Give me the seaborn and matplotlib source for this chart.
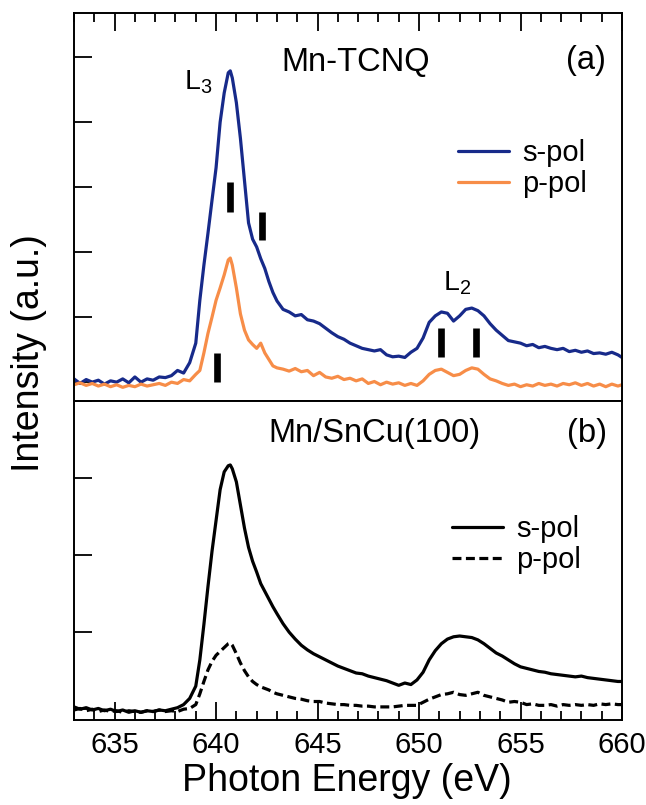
import numpy as np
import pandas as pd
import matplotlib
matplotlib.use("Agg")
import matplotlib.pyplot as plt
from matplotlib.ticker import MultipleLocator, NullFormatter
import seaborn as sns

sns.set_theme(style="white")
plt.rcParams["font.family"] = ["Liberation Sans", "DejaVu Sans"]
plt.rcParams["mathtext.fontset"] = "custom"
plt.rcParams["mathtext.rm"] = "Liberation Sans"
for key in ("text.color", "axes.labelcolor", "xtick.color", "ytick.color"):
    plt.rcParams[key] = "black"

# Photon energy grid (eV), shared by both panels
energy = [
    633.0, 633.3, 633.6, 633.9, 634.2, 634.5, 634.8, 635.1, 635.4, 635.7,
    636.0, 636.3, 636.6, 636.9, 637.2, 637.5, 637.8, 638.1, 638.4, 638.7,
    639.0, 639.2, 639.4, 639.6, 639.8, 640.0, 640.2, 640.4, 640.6, 640.7,
    640.8, 641.0, 641.2, 641.4, 641.6, 641.8, 642.0, 642.2, 642.4, 642.6,
    642.8, 643.0, 643.3, 643.6, 643.9, 644.2, 644.5, 644.8, 645.1, 645.4,
    645.7, 646.0, 646.3, 646.6, 646.9, 647.2, 647.5, 647.8, 648.1, 648.4,
    648.7, 649.0, 649.3, 649.6, 649.9, 650.2, 650.5, 650.8, 651.1, 651.4,
    651.7, 652.0, 652.3, 652.6, 652.9, 653.2, 653.5, 653.8, 654.1, 654.4,
    654.7, 655.0, 655.3, 655.6, 655.9, 656.2, 656.5, 656.8, 657.1, 657.4,
    657.7, 658.0, 658.3, 658.6, 658.9, 659.2, 659.5, 659.8, 660.0,
]

# (a) Mn-TCNQ
tcnq_s = [
    0.05, -0.02, 0.04, 0.00, 0.03, -0.03, 0.02, 0.00, 0.05, -0.01,
    0.08, 0.00, 0.05, 0.03, 0.08, 0.07, 0.10, 0.18, 0.14, 0.30,
    0.60, 1.26, 1.80, 2.29, 2.80, 3.30, 4.00, 4.45, 4.76, 4.79,
    4.68, 4.30, 3.75, 3.10, 2.45, 2.20, 2.08, 1.90, 1.75, 1.55,
    1.38, 1.25, 1.12, 1.08, 1.02, 1.04, 0.96, 0.94, 0.90, 0.83,
    0.76, 0.70, 0.66, 0.60, 0.56, 0.52, 0.50, 0.48, 0.50, 0.42,
    0.39, 0.40, 0.38, 0.46, 0.52, 0.68, 0.92, 1.02, 1.08, 1.06,
    0.94, 1.02, 1.12, 1.14, 1.10, 1.02, 0.90, 0.80, 0.72, 0.64,
    0.62, 0.60, 0.56, 0.58, 0.53, 0.55, 0.52, 0.50, 0.52, 0.47,
    0.49, 0.46, 0.48, 0.44, 0.45, 0.43, 0.46, 0.42, 0.38,
]
tcnq_p = [
    -0.04, -0.01, -0.05, -0.02, -0.06, -0.03, -0.07, -0.04, -0.08, -0.05,
    -0.07, -0.03, -0.06, -0.04, -0.02, -0.05, 0.00, -0.02, 0.04, 0.02,
    0.12, 0.18, 0.45, 0.75, 1.00, 1.26, 1.45, 1.65, 1.88, 1.91,
    1.80, 1.45, 1.05, 0.80, 0.65, 0.58, 0.52, 0.60, 0.45, 0.35,
    0.25, 0.22, 0.20, 0.17, 0.21, 0.16, 0.18, 0.10, 0.15, 0.08,
    0.06, 0.09, 0.04, 0.06, 0.02, 0.05, -0.02, 0.01, -0.04, 0.00,
    -0.03, -0.01, -0.05, -0.02, -0.05, 0.02, 0.12, 0.18, 0.20, 0.15,
    0.10, 0.12, 0.18, 0.22, 0.20, 0.12, 0.05, 0.02, -0.02, -0.05,
    -0.03, -0.07, -0.04, -0.06, -0.02, -0.05, -0.03, -0.06, -0.02, -0.04,
    -0.01, -0.05, -0.02, -0.06, -0.03, -0.07, -0.03, -0.06, -0.04,
]

# (b) Mn/SnCu(100)
sncu_s = [
    0.03, 0.00, 0.02, -0.01, 0.01, -0.02, 0.00, -0.03, -0.01, -0.04,
    -0.02, -0.04, -0.02, -0.03, -0.01, -0.02, 0.00, 0.02, 0.06, 0.14,
    0.30, 0.64, 1.10, 1.59, 2.05, 2.45, 2.85, 3.08, 3.16, 3.17,
    3.12, 2.95, 2.65, 2.35, 2.10, 1.92, 1.78, 1.63, 1.53, 1.43,
    1.33, 1.24, 1.11, 1.00, 0.91, 0.83, 0.77, 0.72, 0.68, 0.64,
    0.60, 0.56, 0.53, 0.50, 0.47, 0.46, 0.43, 0.41, 0.39, 0.37,
    0.34, 0.31, 0.34, 0.32, 0.38, 0.48, 0.64, 0.76, 0.85, 0.91,
    0.94, 0.95, 0.94, 0.93, 0.90, 0.85, 0.79, 0.73, 0.69, 0.64,
    0.59, 0.55, 0.53, 0.51, 0.49, 0.48, 0.46, 0.45, 0.44, 0.43,
    0.42, 0.43, 0.41, 0.40, 0.39, 0.38, 0.37, 0.36, 0.36,
]
sncu_p = [
    -0.01, 0.01, -0.02, 0.00, -0.03, -0.01, -0.03, -0.02, -0.04, -0.02,
    -0.03, -0.04, -0.02, -0.03, -0.01, -0.03, -0.02, -0.03, 0.00, 0.01,
    0.06, 0.20, 0.36, 0.51, 0.62, 0.70, 0.75, 0.80, 0.85, 0.86,
    0.83, 0.72, 0.60, 0.50, 0.42, 0.36, 0.32, 0.29, 0.27, 0.25,
    0.22, 0.20, 0.18, 0.16, 0.14, 0.13, 0.11, 0.10, 0.10, 0.08,
    0.07, 0.06, 0.06, 0.05, 0.05, 0.04, 0.04, 0.03, 0.03, 0.03,
    0.03, 0.04, 0.05, 0.05, 0.05, 0.09, 0.13, 0.16, 0.19, 0.20,
    0.22, 0.19, 0.18, 0.20, 0.22, 0.18, 0.16, 0.14, 0.12, 0.09,
    0.10, 0.09, 0.06, 0.07, 0.05, 0.05, 0.06, 0.04, 0.06, 0.05,
    0.06, 0.05, 0.06, 0.05, 0.07, 0.06, 0.07, 0.06, 0.06,
]

pol_labels = ["s-pol", "p-pol"]

# Feature markers in (a): energy, lower and upper intensity
feature_e = [640.7, 642.25, 640.06, 651.1, 652.8]
feature_lo = [2.62, 2.18, 0.00, 0.39, 0.39]
feature_hi = [3.08, 2.62, 0.45, 0.83, 0.83]

df_a = pd.DataFrame({
    "energy": energy * 2,
    "intensity": tcnq_s + tcnq_p,
    "pol": [pol_labels[0]] * len(energy) + [pol_labels[1]] * len(energy),
})
df_b = pd.DataFrame({
    "energy": energy * 2,
    "intensity": sncu_s + sncu_p,
    "pol": [pol_labels[0]] * len(energy) + [pol_labels[1]] * len(energy),
})

fig = plt.figure(figsize=(6.46, 8.05), dpi=100)
L, R = 74 / 646, 622 / 646
ax_a = fig.add_axes([L, 1 - 401 / 805, R - L, (401 - 13) / 805])
ax_b = fig.add_axes([L, 1 - 720 / 805, R - L, (720 - 401) / 805])

lw = 2.3
sns.lineplot(data=df_a, x="energy", y="intensity", hue="pol",
             palette={"s-pol": "#172a8a", "p-pol": "#f78d48"},
             estimator=None, sort=False, linewidth=lw, ax=ax_a)
sns.lineplot(data=df_b, x="energy", y="intensity", style="pol",
             dashes={"s-pol": "", "p-pol": (2.8, 1.4)}, color="black",
             estimator=None, sort=False, linewidth=lw, ax=ax_b)

ax_a.vlines(feature_e, feature_lo, feature_hi, colors="black", linewidth=4.8)

for ax in (ax_a, ax_b):
    ax.set_xlim(633, 660)
    ax.set_xlabel("")
    ax.set_ylabel("")
    ax.xaxis.set_major_locator(MultipleLocator(5))
    ax.xaxis.set_minor_locator(MultipleLocator(1))
    ax.yaxis.set_major_locator(MultipleLocator(1))
    ax.yaxis.set_major_formatter(NullFormatter())
    ax.tick_params(axis="both", which="major", direction="in", length=13,
                   width=1.3, color="black")
    ax.tick_params(axis="x", which="minor", direction="in", length=6.5,
                   width=1.3, color="black")
    ax.tick_params(axis="y", left=True, right=False)
    for sp in ax.spines.values():
        sp.set_color("black")
        sp.set_linewidth(1.4)

ax_a.set_ylim(-0.29, 5.68)
ax_b.set_ylim(-0.14, 4.0)

ax_a.tick_params(axis="x", which="both", top=True, bottom=False,
                 labeltop=False, labelbottom=False)
ax_b.tick_params(axis="x", which="both", top=False, bottom=True,
                 labelbottom=True, labelsize=21, pad=8)

fs_panel = 23.5
ax_a.text(646.9, 4.92, "Mn-TCNQ", fontsize=fs_panel, ha="center", va="center")
ax_a.text(658.2, 4.95, "(a)", fontsize=fs_panel, ha="center", va="center")
ax_a.text(638.4, 4.62, r"L$_3$", fontsize=20.5, ha="left", va="center")
ax_a.text(651.2, 1.52, r"L$_2$", fontsize=20.5, ha="left", va="center")

ax_b.text(647.8, 3.58, "Mn/SnCu(100)", fontsize=fs_panel, ha="center", va="center")
ax_b.text(658.3, 3.58, "(b)", fontsize=fs_panel, ha="center", va="center")

leg_kw = dict(frameon=False, fontsize=21, handlelength=1.75, handletextpad=0.45,
              labelspacing=0.1, borderpad=0, borderaxespad=0, loc="upper left")
ax_a.legend(bbox_to_anchor=(0.700, 0.675), **leg_kw)
ax_b.legend(bbox_to_anchor=(0.689, 0.642), **leg_kw)

fig.text(29 / 646, 1 - 353 / 805, "Intensity (a.u.)", fontsize=27,
         rotation=90, ha="center", va="center")
fig.text(347 / 646, 1 - 781 / 805, "Photon Energy (eV)", fontsize=27,
         ha="center", va="center")

fig.savefig("out.png", dpi=100)
